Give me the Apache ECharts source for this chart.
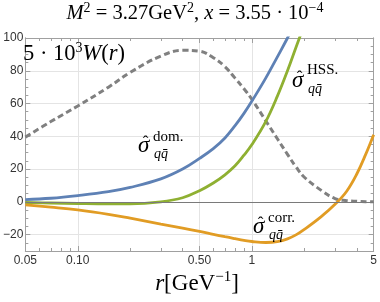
<!DOCTYPE html>
<html><head><meta charset="utf-8">
<script src="https://cdn.jsdelivr.net/npm/echarts@6/dist/echarts.min.js"></script>
<style>html,body{margin:0;padding:0;background:#fff}#c{width:380px;height:302px}</style>
</head><body><div id="c"></div>
<script>
// r grid (GeV^-1)
const r = [0.05,0.07,0.1,0.15,0.2,0.3,0.4,0.5,0.6,0.7,0.8,0.9,1.0,1.2,1.4,1.6,1.8,2.0,2.5,3.0,3.5,4.0,4.5,5.0];
// 5·10^3 W(r)  (gray dashed)
const W    = [39.5,49,58.5,70,79,89,92.5,92,88,82.5,75.5,69,62.5,49.5,38.5,29,21,15,7,2,0.7,0.3,0.1,0];
// sigma dom (blue)
const dom  = [1.4,2.2,3.8,6.2,8.8,14,20,26.5,32.5,39,46.5,54,61.5,75.5,88.5,100,111];
// sigma HSS (green)
const hss  = [-0.4,-0.7,-1.0,-1.2,-1.2,0,2.5,6.8,11.5,16.5,22,28.5,35,49,64.5,80,95,108];
// sigma corr (orange)
const corr = [-1.8,-3.2,-4.9,-7.6,-10,-13.6,-16,-18,-19.8,-21.3,-22.5,-23.5,-24.2,-24.8,-24.3,-22.6,-20,-16.8,-9,-1.5,6.5,17,29,41];

const xTicks = [0.05,0.1,0.5,1,5];
const xTickLabels = ['0.05','0.10','0.50','1','5'];
const xMinor = [0.06,0.07,0.08,0.09,0.2,0.3,0.4,0.6,0.7,0.8,0.9,2,3,4];
const yTicks = [-20,0,20,40,60,80,100];
const yMinor = [-25,-15,-10,-5,5,10,15,25,30,35,45,50,55,65,70,75,85,90,95];

const zip = (a) => a.map((v,i)=>[r[i],v]);
const AX = '#a0a0a0';
const SERIF = "'Liberation Serif', 'DejaVu Serif', serif";

function xAxisDef(pos, major, labels){
  return {
    type:'log', logBase:10, min:0.05, max:5, position:pos,
    axisLine:{show:true, onZero:false, lineStyle:{color:AX, width:1}},
    axisTick:{show:true, inside:true, length: major?5:3, customValues: major?xTicks:xMinor, lineStyle:{color:AX}},
    axisLabel:{show:labels, customValues:xTicks, color:'#333', fontSize:12, fontFamily:"'Liberation Sans', Arial, sans-serif", margin:4,
      formatter:(v)=>{let b=0,d=1e9;xTicks.forEach((t,i)=>{const e=Math.abs(Math.log(t)-Math.log(v));if(e<d){d=e;b=i;}});return xTickLabels[b];}},
    splitLine:{show: major && labels, lineStyle:{color:'#e4e4e4', width:1}},
    minorTick:{show:false}, minorSplitLine:{show:false}
  };
}
function yAxisDef(pos, major, labels){
  return {
    type:'value', min:-30, max:100, position:pos,
    axisLine:{show:true, onZero:false, lineStyle:{color:AX, width:1}},
    axisTick:{show:true, inside:true, length: major?5:3, customValues: major?yTicks:yMinor, lineStyle:{color:AX}},
    axisLabel:{show:labels, customValues:yTicks, color:'#333', fontSize:12, fontFamily:"'Liberation Sans', Arial, sans-serif", margin:2,
      formatter:(v)=> v<0 ? '\u2212'+(-v) : String(v)},
    splitLine:{show: major && labels, lineStyle:{color:'#e4e4e4', width:1}}
  };
}

function sigmaLabel(x, y, sup, supDy){
  return [
    {type:'text', x:x, y:y, z:10, style:{text:'\u03C3', font:'italic 23px '+SERIF, fill:'#000', align:'left', verticalAlign:'middle'}},
    {type:'text', x:x+7.5, y:y-3, z:10, style:{text:'\u02C6', font:'17px '+SERIF, fill:'#000', align:'center', verticalAlign:'middle'}},
    {type:'text', x:x+15, y:y+supDy, z:10, style:{text:sup, font:'15px '+SERIF, fill:'#000', align:'left', verticalAlign:'middle'}},
    {type:'text', x:x+16, y:y+8, z:10, style:{text:'q\u0071\u0304', font:'italic 14px '+SERIF, fill:'#000', align:'left', verticalAlign:'middle'}}
  ];
}

const rich = {
  n:{fontFamily:SERIF, fontSize:20.5, lineHeight:26, fill:'#000'},
  i:{fontFamily:SERIF, fontSize:20.5, fontStyle:'italic', lineHeight:26, fill:'#000'},
  s:{fontFamily:SERIF, fontSize:14, lineHeight:14, verticalAlign:'top', fill:'#000'}
};
const richBig = {
  n:{fontFamily:SERIF, fontSize:23, lineHeight:28, fill:'#000'},
  i:{fontFamily:SERIF, fontSize:23, fontStyle:'italic', lineHeight:28, fill:'#000'},
  s:{fontFamily:SERIF, fontSize:15, lineHeight:15, verticalAlign:'top', fill:'#000'}
};

const chart = echarts.init(document.getElementById('c'), null, {renderer:'canvas'});
const option = {
  animation:false,
  grid:{left:21, right:3, top:38, bottom:51, containLabel:false},
  xAxis:[xAxisDef('bottom',true,true), xAxisDef('bottom',false,false), xAxisDef('top',true,false), xAxisDef('top',false,false)],
  yAxis:[yAxisDef('left',true,true), yAxisDef('left',false,false), yAxisDef('right',true,false), yAxisDef('right',false,false)],
  series:[
    {name:'W', type:'line', data:zip(W), smooth:0.4, symbol:'none', clip:true,
     lineStyle:{color:'#808080', width:3, type:[6,3.5]}, z:2,
     markLine:{silent:true, symbol:'none', label:{show:false}, data:[{yAxis:0}], lineStyle:{color:'#7a7a7a', width:1, type:'solid'}}},
    {name:'dom', type:'line', data:zip(dom), smooth:0.4, symbol:'none', clip:true, lineStyle:{color:'#5e81b5', width:2.8}, z:3},
    {name:'HSS', type:'line', data:zip(hss), smooth:0.4, symbol:'none', clip:true, lineStyle:{color:'#8fb032', width:2.8}, z:3},
    {name:'corr', type:'line', data:zip(corr), smooth:0.4, symbol:'none', clip:true, lineStyle:{color:'#e19c24', width:2.8}, z:4}
  ],
  graphic:[
    {type:'text', x:195, y:14, z:10, style:{
      text:'{i|M}{s|2}{n| = 3.27GeV}{s|2}{n|, }{i|x}{n| = 3.55 · 10}{s|\u22124}',
      align:'center', verticalAlign:'middle', rich:rich}},
    {type:'text', x:23, y:54, z:10, style:{
      text:'{n|5 · 10}{s|3}{i|W}{n|(}{i|r}{n|)}',
      align:'left', verticalAlign:'middle', rich:Object.assign({}, rich, {
        n:{fontFamily:SERIF, fontSize:22.5, lineHeight:26, fill:'#000'},
        i:{fontFamily:SERIF, fontSize:22.5, fontStyle:'italic', lineHeight:26, fill:'#000'}})}},
    {type:'text', x:197, y:284, z:10, style:{
      text:'{i|r}{n|[GeV}{s|\u22121}{n|]}',
      align:'center', verticalAlign:'middle', rich:richBig}},
    ...sigmaLabel(138, 146, 'dom.', -9),
    ...sigmaLabel(292, 81, 'HSS.', -11),
    ...sigmaLabel(253, 227, 'corr.', -9)
  ]
};
chart.setOption(option);
</script>
</body></html>
